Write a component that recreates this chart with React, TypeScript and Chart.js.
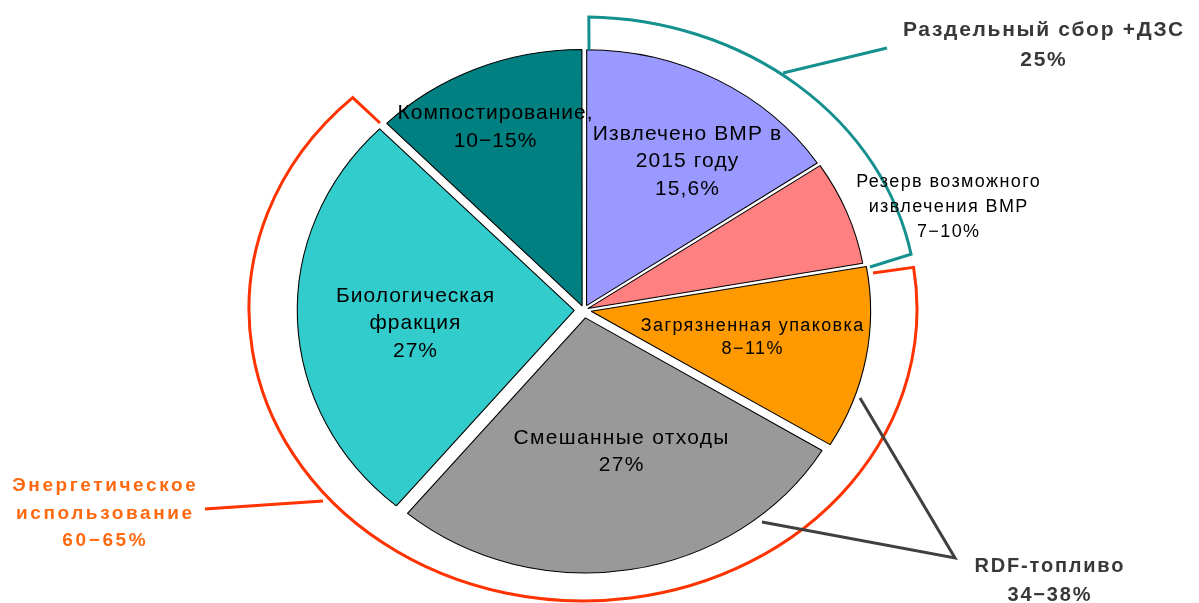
import React, { useEffect, useRef } from "react";
import { Chart, registerables } from "chart.js";

Chart.register(...registerables);

// ---- data ----
const categories = [
  "Извлечено ВМР в 2015 году",
  "Резерв возможного извлечения ВМР",
  "Загрязненная упаковка",
  "Смешанные отходы",
  "Биологическая фракция",
  "Компостирование",
];
const shares = [15.6, 6.6, 11.5, 27.4, 26.5, 12.4];
const sliceTexts = [
  ["Извлечено ВМР в", "2015 году", "15,6%"],
  ["Резерв возможного", "извлечения ВМР", "7−10%"],
  ["Загрязненная упаковка", "8−11%"],
  ["Смешанные отходы", "27%"],
  ["Биологическая", "фракция", "27%"],
  ["Компостирование,", "10−15%"],
];
const groupSeparate = ["Раздельный сбор +ДЗС", "25%"];
const groupEnergy = ["Энергетическое", "использование", "60−65%"];
const groupRdf = ["RDF-топливо", "34−38%"];

// ---- styles / layout ----
const sliceColors = ["#9999FF", "#FF8080", "#FF9900", "#999999", "#33CCCC", "#008080"];
const sliceOffsets = [20, 15, 27, 32, 36, 18];
const SX = 1.086;
const FONT = "'Liberation Sans', Arial, sans-serif";
// [x, firstLineY, lineGap, fontSize, letterSpacing]
const sliceTextLayout: number[][] = [
  [687, 133, 27.5, 21, 1.1],
  [948, 181, 25, 18, 1.4],
  [752, 325, 23, 18, 1.4],
  [621, 437, 27.5, 21, 1.3],
  [415, 295, 27.5, 21, 1.0],
  [495, 112, 28, 21, 1.0],
];

const overlayPlugin = {
  id: "overlay",
  beforeDatasetsDraw(chart: any) {
    const arc = chart.getDatasetMeta(0).data[0];
    const ctx = chart.ctx;
    ctx.save();
    ctx.translate(arc.x, 0);
    ctx.scale(SX, 1);
    ctx.translate(-arc.x, 0);
  },
  afterDatasetsDraw(chart: any) {
    chart.ctx.restore();
  },
  afterDraw(chart: any) {
    const ctx = chart.ctx as CanvasRenderingContext2D;
    const drawLines = (lines: string[], x: number, y: number, gap: number, size: number, ls: number, color: string, bold: boolean) => {
      ctx.save();
      ctx.font = `${bold ? "bold " : ""}${size}px ${FONT}`;
      (ctx as any).letterSpacing = `${ls}px`;
      ctx.fillStyle = color;
      ctx.textAlign = "center";
      ctx.textBaseline = "middle";
      lines.forEach((l, i) => ctx.fillText(l, x + ls / 2, y + i * gap + 1));
      ctx.restore();
    };

    // bracket arcs
    const ECX = 583, ECY = 309, ERX = 334, ERY = 292;
    const pt = (deg: number) => {
      const t = (deg * Math.PI) / 180;
      return [ECX + ERX * Math.cos(t), ECY + ERY * Math.sin(t)];
    };
    ctx.save();
    ctx.lineWidth = 3;
    ctx.lineJoin = "miter";
    // teal
    ctx.strokeStyle = "#14918F";
    let a0 = -89, a1 = -10.8;
    let p0 = pt(a0);
    ctx.beginPath();
    ctx.moveTo(589, 50);
    ctx.lineTo(p0[0], p0[1]);
    ctx.ellipse(ECX, ECY, ERX, ERY, 0, (a0 * Math.PI) / 180, (a1 * Math.PI) / 180);
    ctx.lineTo(870, 267);
    ctx.stroke();
    ctx.beginPath();
    ctx.moveTo(783, 73);
    ctx.lineTo(887, 48);
    ctx.stroke();
    // red
    ctx.strokeStyle = "#FF3300";
    a0 = -8.2; a1 = 226.4;
    p0 = pt(a0);
    ctx.beginPath();
    ctx.moveTo(873, 273);
    ctx.lineTo(p0[0], p0[1]);
    ctx.ellipse(ECX, ECY, ERX, ERY, 0, (a0 * Math.PI) / 180, (a1 * Math.PI) / 180);
    ctx.lineTo(380, 123);
    ctx.stroke();
    ctx.beginPath();
    ctx.moveTo(323, 501);
    ctx.lineTo(205, 509);
    ctx.stroke();
    // dark gray RDF leaders
    ctx.strokeStyle = "#404040";
    ctx.beginPath();
    ctx.moveTo(860, 398);
    ctx.lineTo(955, 558);
    ctx.lineTo(762, 522);
    ctx.stroke();
    ctx.restore();

    // slice labels
    sliceTexts.forEach((lines, i) => {
      const [x, y, gap, size, ls] = sliceTextLayout[i];
      drawLines(lines, x, y, gap, size, ls, "#000000", false);
    });
    // group labels
    drawLines(groupSeparate, 1043, 29, 30, 21, 1.7, "#383838", true);
    drawLines(groupEnergy, 104, 485, 27.5, 19, 2.6, "#FF6A10", true);
    drawLines(groupRdf, 1049, 565, 29, 20, 1.8, "#383838", true);
  },
};

export default function App() {
  const ref = useRef<HTMLCanvasElement | null>(null);
  useEffect(() => {
    if (!ref.current) return;
    const chart = new Chart(ref.current, {
      type: "pie",
      data: {
        labels: categories,
        datasets: [
          {
            data: shares,
            backgroundColor: sliceColors,
            borderColor: "#000000",
            borderWidth: 1,
            offset: sliceOffsets,
            hoverOffset: 0,
            radius: 255,
            clip: false,
          } as any,
        ],
      },
      options: {
        responsive: true,
        maintainAspectRatio: false,
        animation: false,
        radius: 255,
        layout: { padding: { left: 0, right: 31, top: 17, bottom: 0 } },
        plugins: {
          legend: { display: false },
          tooltip: { enabled: false },
        },
        events: [],
      } as any,
      plugins: [overlayPlugin],
    });
    return () => chart.destroy();
  }, []);
  return (
    <div style={{ position: "absolute", left: 0, top: 0, width: 1199, height: 603, background: "#ffffff" }}>
      <canvas ref={ref} />
    </div>
  );
}
